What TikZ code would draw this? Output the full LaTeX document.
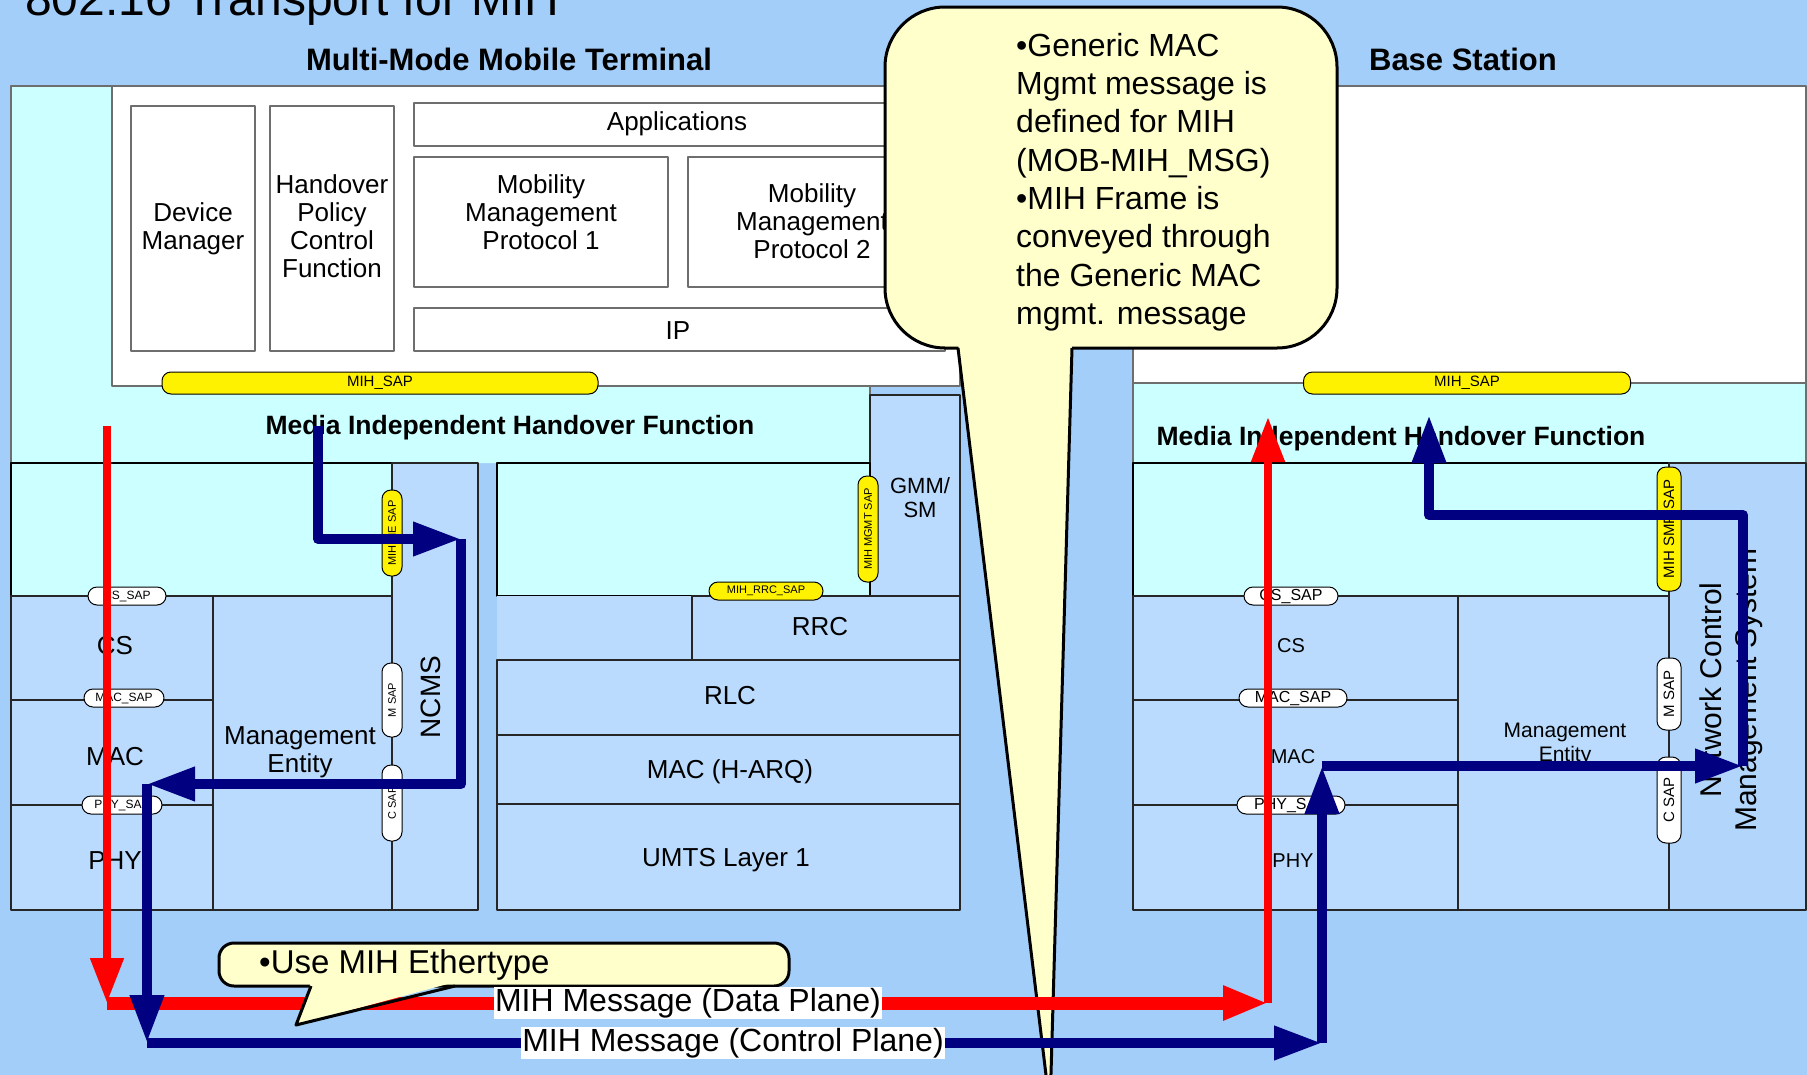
\documentclass[tikz,border=0pt]{standalone}
\usepackage{fontspec}
\setmainfont{Liberation Sans}
\usetikzlibrary{arrows.meta}

\definecolor{bgside}{RGB}{163,206,250}
\definecolor{bgmid}{RGB}{196,226,255}
\definecolor{mihcyan}{RGB}{204,255,255}
\definecolor{stackblue}{RGB}{186,219,253}
\definecolor{ncmsblue}{RGB}{178,213,251}
\definecolor{notefill}{RGB}{255,255,204}
\definecolor{ctrlblue}{RGB}{0,0,128}
\definecolor{framegray}{RGB}{110,110,110}

\newcommand{\fsz}[2]{\fontsize{#1}{#2}\selectfont}

\begin{document}
\begin{tikzpicture}[x=1pt, y=-1pt, line join=round,
    every node/.style={font=\fsz{26}{28}, align=center, inner sep=0pt},
    layer/.style={draw=black!85, fill=stackblue, line width=1.5pt},
    mihbox/.style={draw=black, fill=mihcyan, line width=2pt},
    upper/.style={draw=framegray, fill=white, line width=1.5pt},
    sapy/.style={draw=black, fill=yellow, rounded corners=9pt, line width=1pt},
    sapw/.style={draw=black, fill=white, rounded corners=9pt, line width=1pt},
    note/.style={draw=black, fill=notefill, line width=3pt},
    dataline/.style={red, line width=8pt, -{Triangle[length=45pt,width=32pt]}},
    ctrlline/.style={ctrlblue, line width=10pt, -{Triangle[length=48pt,width=32pt]}},
    msglabel/.style={fill=white, inner sep=1.5pt, font=\fsz{32}{34}}]

    \useasboundingbox (0,0) rectangle (1807,1074);
    \clip (0,0) rectangle (1807,1074);
    \shade[left color=bgside, middle color=bgmid, right color=bgside] (0,0) rectangle (1807,1074);

    \node[anchor=base west, font=\fsz{48}{50}] (title) at (25,15) {802.16 Transport for MIH};
    \node[font=\fsz{31}{34}\bfseries] (mmtTitle) at (509,59) {Multi-Mode Mobile Terminal};
    \node[font=\fsz{31}{34}\bfseries] (bsTitle) at (1463,59) {Base Station};

    % multi-mode terminal, upper layers
    \fill[mihcyan] (11,86) -- (112,86) -- (112,386) -- (870,386) -- (870,463) -- (11,463) -- cycle;
    \draw[framegray, line width=1.5pt] (11,463) -- (11,86) -- (112,86) (870,386) -- (870,463);
    \draw[upper] (112,86) rectangle (960,386);
    \draw[upper] (131,106) rectangle (255,351);
    \draw[upper] (270,106) rectangle (394,351);
    \draw[upper] (414,103) rectangle (940,146);
    \draw[upper] (414,157) rectangle (668,287);
    \draw[upper] (688,157) rectangle (940,287);
    \draw[upper] (414,308) rectangle (945,351);

    \node (devMgr) at (193,229) {Device\\Manager};
    \node (hoPolicy) at (332,226) {Handover\\Policy\\Control\\Function};
    \node (apps) at (677,124) {Applications};
    \node (mmp1) at (541,212) {Mobility\\Management\\Protocol 1};
    \node (mmp2) at (812,221) {Mobility\\Management\\Protocol 2};
    \node (ipL) at (678,331) {IP};
    \node[font=\fsz{26.5}{28}\bfseries] (mihfL) at (510,428) {Media Independent Handover Function};

    % 802.16 and UMTS stacks
    \draw[layer] (870,395) rectangle (960,596);
    \draw[mihbox] (11,463) rectangle (392,596);
    \draw[layer] (392,463) rectangle (478,910);
    \draw[layer] (11,596) rectangle (213,700);
    \draw[layer] (11,700) rectangle (213,805);
    \draw[layer] (11,805) rectangle (213,910);
    \draw[layer] (213,596) rectangle (392,910);
    \draw[mihbox] (497,463) rectangle (870,596);
    \fill[stackblue] (497,596) rectangle (692,660);
    \draw[layer] (692,596) rectangle (960,660);
    \draw[layer] (497,660) rectangle (960,735);
    \draw[layer] (497,735) rectangle (960,804);
    \draw[layer] (497,804) rectangle (960,910);

    \node[font=\fsz{22}{24}] (gmm) at (920,498) {GMM/\\SM};
    \node (csL) at (115,646) {CS};
    \node (macL) at (115,757) {MAC};
    \node (phyL) at (115,861) {PHY};
    \node (meL) at (300,752) {Management\\Entity};
    \node[rotate=90, font=\fsz{28}{30}] (ncmsL) at (431,697) {NCMS};
    \node (rrc) at (820,627) {RRC};
    \node (rlc) at (730,696) {RLC};
    \node (macU) at (730,772) {MAC (H-ARQ)};
    \node (umts1) at (726,860) {UMTS Layer 1};

    % base station
    \draw[upper] (1133,86) rectangle (1806,383);
    \draw[framegray, fill=mihcyan, line width=1.5pt] (1133,383) rectangle (1806,463);
    \draw[mihbox] (1133,463) rectangle (1669,596);
    \draw[layer, fill=ncmsblue] (1669,463) rectangle (1806,910);
    \draw[layer] (1133,596) rectangle (1458,700);
    \draw[layer] (1133,700) rectangle (1458,805);
    \draw[layer] (1133,805) rectangle (1458,910);
    \draw[layer] (1458,596) rectangle (1669,910);

    \node[font=\fsz{26.5}{28}\bfseries] (mihfR) at (1401,439) {Media Independent Handover Function};
    \node[font=\fsz{20}{22}] (csR) at (1291,646) {CS};
    \node[font=\fsz{20}{22}] (macR) at (1293,757) {MAC};
    \node[font=\fsz{20}{22}] (phyR) at (1293,861) {PHY};
    \node[font=\fsz{21}{24}] (meR) at (1565,744) {Management\\Entity};
    \node[rotate=90, font=\fsz{30}{35}] (ncmsR) at (1731,690) {Network Control\\Management System};

    % service access points
    \node[sapy, minimum width=436pt, minimum height=22pt, font=\fsz{15}{16}] (mihSapL) at (380,383) {MIH\_SAP};
    \node[sapw, minimum width=78pt, minimum height=18pt, font=\fsz{12}{13}] (csSapL) at (127,596) {CS\_SAP};
    \node[sapw, minimum width=80pt, minimum height=18pt, font=\fsz{12}{13}] (macSapL) at (124,698) {MAC\_SAP};
    \node[sapw, minimum width=80pt, minimum height=18pt, font=\fsz{12}{13}] (phySapL) at (122,805) {PHY\_SAP};
    \node[sapy, rotate=90, minimum width=86pt, minimum height=20pt, font=\fsz{11}{12}] (meSap) at (392,533) {MIH ME SAP};
    \node[sapw, rotate=90, minimum width=74pt, minimum height=20pt, font=\fsz{11}{12}] (mSapL) at (392,700) {M SAP};
    \node[sapw, rotate=90, minimum width=76pt, minimum height=20pt, font=\fsz{11}{12}] (cSapL) at (392,803) {C SAP};
    \node[sapy, rotate=90, minimum width=106pt, minimum height=20pt, font=\fsz{11}{12}] (mgmtSap) at (868,529) {MIH MGMT SAP};
    \node[sapy, minimum width=114pt, minimum height=18pt, font=\fsz{11}{12}] (rrcSap) at (766,591) {MIH\_RRC\_SAP};

    \node[sapy, minimum width=327pt, minimum height=22pt, font=\fsz{15}{16}] (mihSapR) at (1467,383) {MIH\_SAP};
    \node[sapw, minimum width=94pt, minimum height=18pt, font=\fsz{16}{17}] (csSapR) at (1291,596) {CS\_SAP};
    \node[sapw, minimum width=108pt, minimum height=18pt, font=\fsz{16}{17}] (macSapR) at (1293,698) {MAC\_SAP};
    \node[sapw, minimum width=108pt, minimum height=18pt, font=\fsz{16}{17}] (phySapR) at (1291,805) {PHY\_SAP};
    \node[sapy, rotate=90, minimum width=124pt, minimum height=24pt, font=\fsz{15}{16}] (smpSap) at (1669,529) {MIH SMP SAP};
    \node[sapw, rotate=90, minimum width=72pt, minimum height=24pt, font=\fsz{15}{16}] (mSapR) at (1669,694) {M SAP};
    \node[sapw, rotate=90, minimum width=86pt, minimum height=24pt, font=\fsz{15}{16}] (cSapR) at (1669,800) {C SAP};

    % generic MAC callout
    \draw[note, rounded corners=60pt] (885,7) rectangle (1337,348);
    \fill[notefill] (958,343) -- (1050,1108) -- (1072,343) -- cycle;
    \draw[black, line width=3pt] (958,348) -- (1050,1108) -- (1072,348);
    \node[anchor=north west, align=left, font=\fsz{32}{38.3}] (macNote) at (1016,33)
        {•Generic MAC\\Mgmt message is\\defined for MIH\\(MOB-MIH\_MSG)\\•MIH Frame is\\conveyed through\\the Generic MAC\\mgmt. message};

    % data plane
    \coordinate (dA) at (107,426);
    \coordinate (dB) at (107,1003);
    \coordinate (dC) at (1268,1003);
    \coordinate (dD) at (1268,417);
    \draw[dataline] (dA) -- (dB);
    \draw[dataline, line width=13pt] (dB) -- (dC);
    \draw[dataline] (dC) -- (dD);

    % control plane
    \coordinate (cA) at (318,426);
    \coordinate (cB) at (318,539);
    \coordinate (cC) at (461,539);
    \coordinate (cD) at (461,784);
    \coordinate (cE) at (147,784);
    \coordinate (cF) at (147,1043);
    \coordinate (cG) at (1322,1043);
    \coordinate (cH) at (1322,766);
    \coordinate (cI) at (1743,766);
    \coordinate (cJ) at (1743,515);
    \coordinate (cK) at (1429,515);
    \coordinate (cL) at (1429,415);
    \draw[ctrlline] (cA) -- (cB) -- (cC);
    \draw[ctrlline] (cC) -- (cD) -- (cE);
    \draw[ctrlline] (cE) -- (cF);
    \draw[ctrlline] (cF) -- (cG);
    \draw[ctrlline] (cG) -- (cH);
    \draw[ctrlline] (cH) -- (cI);
    \draw[ctrlline] (cI) -- (cJ) -- (cK) -- (cL);

    % ethertype callout
    \draw[note, rounded corners=15pt] (219,943) rectangle (789,986);
    \fill[notefill] (311,982) -- (296,1025) -- (455,982) -- cycle;
    \draw[black, line width=3pt] (311,986) -- (296,1025) -- (455,986);
    \node[anchor=west, font=\fsz{33}{36}] (etherNote) at (259,965) {•Use MIH Ethertype};

    \node[msglabel] (dataMsg) at (688,1003) {MIH Message (Data Plane)};
    \node[msglabel] (ctrlMsg) at (733,1043) {MIH Message (Control Plane)};
\end{tikzpicture}
\end{document}
